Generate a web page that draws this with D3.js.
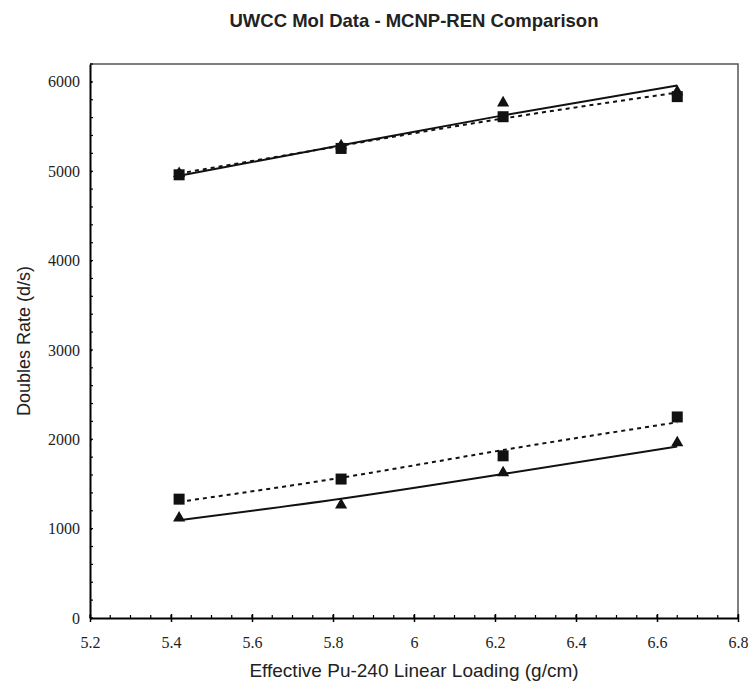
<!DOCTYPE html>
<html>
<head>
<meta charset="utf-8">
<script src="https://cdn.jsdelivr.net/npm/d3@7"></script>
<style>
  body { margin: 0; background: #fff; }
  svg { display: block; }
</style>
</head>
<body>
<div class="chart"></div>
<script>
// loadings (g/cm)
const loading = [5.42, 5.82, 6.22, 6.65];

// measured / calculated doubles rates (d/s)
const upperSquares = [4960, 5255, 5610, 5835];
const upperTriangles = [4975, 5285, 5765, 5890];
const lowerSquares = [1330, 1555, 1815, 2250];
const lowerTriangles = [1120, 1265, 1625, 1960];

// fitted curves at the same loadings
const upperSolidFit = [4950, 5290, 5625, 5960];
const upperDashedFit = [4975, 5285, 5590, 5880];
const lowerSolidFit = [1095, 1335, 1612, 1920];
const lowerDashedFit = [1300, 1570, 1880, 2190];

const xTicks = [5.2, 5.4, 5.6, 5.8, 6, 6.2, 6.4, 6.6, 6.8];
const yTicks = [0, 1000, 2000, 3000, 4000, 5000, 6000];

const width = 752, height = 684;
const plot = { left: 90, right: 738, top: 64, bottom: 618 };

const svg = d3.select('.chart').append('svg')
  .attr('width', width)
  .attr('height', height);

const x = d3.scaleLinear().domain([5.2, 6.8]).range([plot.left, plot.right]);
const y = d3.scaleLinear().domain([0, 6200]).range([plot.bottom, plot.top]);

// box
svg.append('path')
  .attr('d', `M${plot.left},${plot.top}H${plot.right}V${plot.bottom}`)
  .attr('fill', 'none')
  .attr('stroke', '#555')
  .attr('stroke-width', 1.5);

// minor ticks
svg.append('g').selectAll('line')
  .data(d3.range(5.2, 6.8001, 0.05))
  .enter().append('line')
  .attr('x1', d => x(d)).attr('x2', d => x(d))
  .attr('y1', plot.bottom).attr('y2', plot.bottom - 3)
  .attr('stroke', '#000').attr('stroke-width', 1.2);

svg.append('g').selectAll('line')
  .data(d3.range(0, 6201, 200))
  .enter().append('line')
  .attr('x1', plot.left).attr('x2', plot.left + 3)
  .attr('y1', d => y(d)).attr('y2', d => y(d))
  .attr('stroke', '#000').attr('stroke-width', 1.2);

// axes
const xAxis = svg.append('g')
  .attr('transform', `translate(0,${plot.bottom})`)
  .call(d3.axisBottom(x).tickValues(xTicks).tickSizeInner(4).tickSizeOuter(0).tickPadding(15).tickFormat(d3.format('')));
const yAxis = svg.append('g')
  .attr('transform', `translate(${plot.left},0)`)
  .call(d3.axisLeft(y).tickValues(yTicks).tickSizeInner(4).tickSizeOuter(0).tickPadding(6).tickFormat(d3.format('')));

[xAxis, yAxis].forEach(a => {
  a.attr('font-family', 'Liberation Serif, Times New Roman, serif').attr('font-size', 16);
  a.select('.domain').attr('stroke', '#000').attr('stroke-width', 2);
  a.selectAll('.tick line').attr('stroke', '#000').attr('stroke-width', 1.5);
  a.selectAll('.tick text').attr('fill', '#222');
});
xAxis.selectAll('.tick line').attr('y1', -4);
yAxis.selectAll('.tick line').attr('x2', 2);

// fit lines
const line = d3.line()
  .x((d, i) => x(loading[i]))
  .y(d => y(d))
  .curve(d3.curveNatural);

[[upperSolidFit, null], [upperDashedFit, '4,4'], [lowerSolidFit, null], [lowerDashedFit, '4,4']]
  .forEach(([vals, dash]) => {
    svg.append('path')
      .datum(vals)
      .attr('d', line)
      .attr('fill', 'none')
      .attr('stroke', '#111')
      .attr('stroke-width', 2)
      .attr('stroke-dasharray', dash);
  });

// markers
const tri = d3.symbol().type(d3.symbolTriangle).size(64);
[upperTriangles, lowerTriangles].forEach(vals => {
  svg.append('g').selectAll('path')
    .data(vals)
    .enter().append('path')
    .attr('d', tri)
    .attr('transform', (d, i) => `translate(${x(loading[i])},${y(d)})`)
    .attr('fill', '#111');
});
[upperSquares, lowerSquares].forEach(vals => {
  svg.append('g').selectAll('rect')
    .data(vals)
    .enter().append('rect')
    .attr('x', (d, i) => x(loading[i]) - 5.5)
    .attr('y', d => y(d) - 5.5)
    .attr('width', 11).attr('height', 11)
    .attr('fill', '#111');
});

// labels
svg.append('text')
  .attr('x', (plot.left + plot.right) / 2).attr('y', 27)
  .attr('text-anchor', 'middle')
  .attr('font-family', 'Liberation Sans, Arial, sans-serif')
  .attr('font-weight', 'bold')
  .attr('font-size', 18.5)
  .attr('fill', '#222')
  .text('UWCC Mol Data - MCNP-REN Comparison');

svg.append('text')
  .attr('x', (plot.left + plot.right) / 2).attr('y', 677)
  .attr('text-anchor', 'middle')
  .attr('font-family', 'Liberation Sans, Arial, sans-serif')
  .attr('font-size', 19)
  .attr('fill', '#222')
  .text('Effective Pu-240 Linear Loading (g/cm)');

svg.append('text')
  .attr('transform', `translate(30,${(plot.top + plot.bottom) / 2}) rotate(-90)`)
  .attr('text-anchor', 'middle')
  .attr('font-family', 'Liberation Sans, Arial, sans-serif')
  .attr('font-size', 18)
  .attr('fill', '#222')
  .text('Doubles Rate (d/s)');
</script>
</body>
</html>
